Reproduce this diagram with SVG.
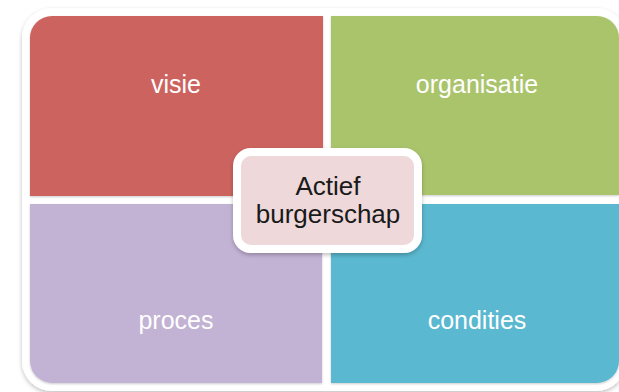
<svg xmlns="http://www.w3.org/2000/svg" width="619" height="392" viewBox="0 0 619 392">
  <defs>
    <filter id="sh" x="-10%" y="-10%" width="120%" height="120%">
      <feDropShadow dx="0" dy="2" stdDeviation="2" flood-color="#000" flood-opacity="0.25"/>
    </filter>
    <filter id="sh2" x="-10%" y="-10%" width="120%" height="120%">
      <feDropShadow dx="0" dy="1" stdDeviation="1.2" flood-color="#000" flood-opacity="0.2"/>
    </filter>
  </defs>
  <style>
    .lbl { font-family: "Liberation Sans", Arial, sans-serif; font-size: 25px; fill: #ffffff; text-anchor: middle; }
    .ctr { font-family: "Liberation Sans", Arial, sans-serif; font-size: 26px; fill: #1a1a1a; text-anchor: middle; }
  </style>
  <rect width="619" height="392" fill="#ffffff"/>
  <g id="frame">
    <rect x="22" y="8" width="604" height="383" rx="30" fill="#ffffff" filter="url(#sh)"/>
  </g>
  <g id="visie">
    <path d="M30,38 A22,22 0 0 1 52,16 L323,16 L323,196 L30,196 Z" fill="#CC645E" filter="url(#sh2)"/>
    <text class="lbl" x="176" y="93">visie</text>
  </g>
  <g id="organisatie">
    <path d="M331,16 L597,16 A22,22 0 0 1 619,38 L619,195 L331,195 Z" fill="#AAC46C" filter="url(#sh2)"/>
    <text class="lbl" x="477" y="93">organisatie</text>
  </g>
  <g id="proces">
    <path d="M30,204 L322,204 L322,383 L52,383 A22,22 0 0 1 30,361 Z" fill="#C2B2D4" filter="url(#sh2)"/>
    <text class="lbl" x="176" y="329">proces</text>
  </g>
  <g id="condities">
    <path d="M331,204 L619,204 L619,361 A22,22 0 0 1 597,383 L331,383 Z" fill="#5AB8D0" filter="url(#sh2)"/>
    <text class="lbl" x="477" y="329">condities</text>
  </g>
  <g id="actief-burgerschap">
    <rect x="237" y="152" width="181" height="97" rx="14" fill="#EED8D9" stroke="#ffffff" stroke-width="8" filter="url(#sh)"/>
    <text class="ctr" x="328" y="195">Actief</text>
    <text class="ctr" x="328" y="223">burgerschap</text>
  </g>
  <g id="connectors"/>
</svg>
